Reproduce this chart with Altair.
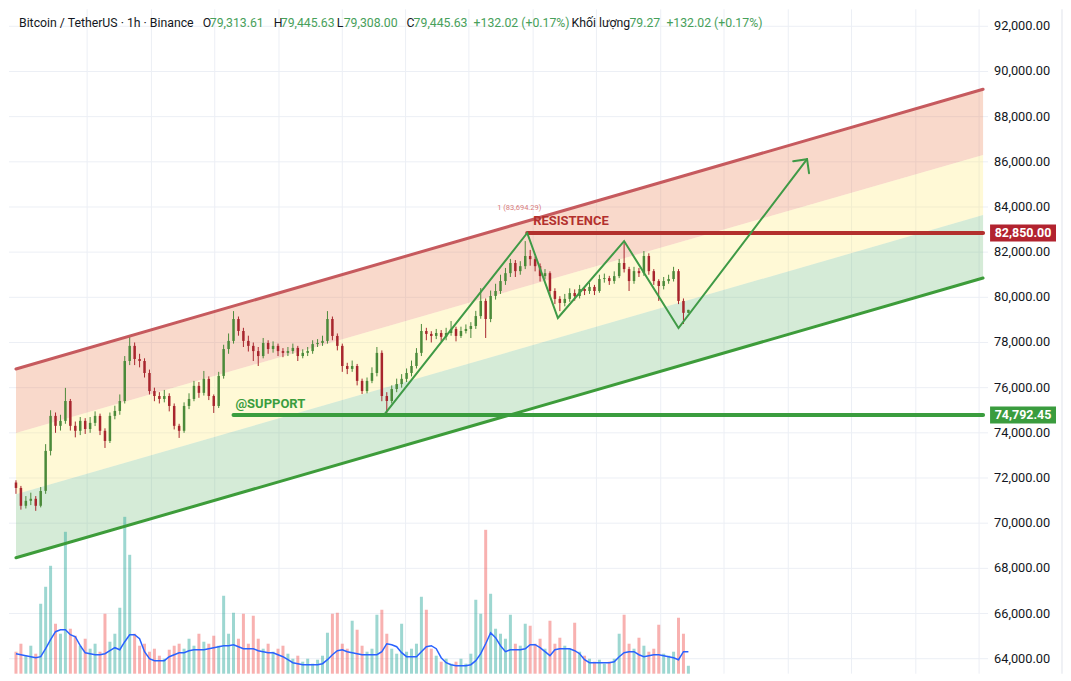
import altair as alt
import pandas as pd

# ---------------- data ----------------
first_open = 71800
closes = [
    71560, 70770, 70990, 71080, 70770, 71430, 73200, 74750, 74310, 74530,
    75410, 74310, 74090, 74530, 74170, 74440, 74750, 74090, 73640, 74750,
    74970, 75410, 77180, 77850, 77270, 77180, 76650, 75850, 75630, 75500,
    75630, 75190, 74310, 74090, 75190, 75500, 76080, 75770, 76390, 75630,
    75190, 76520, 77710, 78070, 79040, 78510, 78070, 77850, 77620, 77400,
    77980, 77710, 77850, 77620, 77540, 77620, 77760, 77400, 77540, 77620,
    77930, 77980, 78070, 79040, 78290, 77850, 76960, 76830, 76960, 76300,
    75850, 76300, 76650, 77540, 75630, 75410, 75940, 76160, 76390, 76650,
    76960, 77540, 78510, 78380, 78290, 78420, 78250, 78420, 78600, 78290,
    78510, 78600, 78730, 79170, 79840, 79040, 80060, 80280, 80720, 81070,
    81520, 81160, 81380, 81830, 81690, 81380, 80940, 81070, 80280, 79930,
    79750, 79930, 80190, 80060, 80370, 80280, 80460, 80280, 80810, 80850,
    80720, 80940, 81520, 81250, 80720, 81160, 81070, 81830, 81160, 80720,
    80500, 80720, 80810, 81160, 79840, 79313.61, 79445.63,
]
highs = [
    71900, 71650, 71200, 71350, 71200, 71600, 73500, 75000, 74900, 74800,
    75990, 75500, 74500, 74700, 74650, 74700, 74950, 74850, 74200, 74900,
    75200, 75700, 77400, 78290, 78000, 77500, 77300, 76800, 76000, 75800,
    75900, 75750, 75300, 74400, 75350, 75750, 76300, 76250, 76740, 76500,
    75700, 76700, 77900, 78400, 79390, 79150, 78650, 78300, 78000, 77800,
    78200, 78100, 78050, 77950, 77750, 77800, 77950, 77850, 77700, 77800,
    78100, 78150, 78300, 79390, 79150, 78400, 77950, 77100, 77200, 77050,
    76400, 76450, 76900, 77800, 77650, 75800, 76100, 76400, 76600, 76850,
    77200, 77750, 78820, 78650, 78500, 78600, 78550, 78650, 78950, 78700,
    78700, 78800, 78900, 79400, 80410, 79950, 80300, 80600, 81000, 81300,
    81700, 81650, 81600, 82490, 82100, 81800, 81500, 81250, 81150, 80400,
    80050, 80150, 80400, 80350, 80550, 80500, 80650, 80550, 81000, 81050,
    80950, 81150, 81700, 82400, 81350, 81350, 81300, 82050, 81950, 81250,
    80800, 80900, 81000, 81350, 81250, 79950, 79445.63,
]
lows = [
    71300, 70600, 70650, 70800, 70546, 70700, 71300, 73000, 74000, 74100,
    74400, 74100, 73800, 73900, 73950, 74000, 74300, 73900, 73330, 73550,
    74600, 74800, 75300, 77000, 77000, 76900, 76450, 75700, 75400, 75300,
    75350, 74950, 74150, 73775, 74000, 75050, 75400, 75550, 75650, 75450,
    74880, 75100, 76400, 77500, 77950, 78300, 77800, 77600, 77180, 76960,
    77300, 77500, 77550, 77400, 77350, 77400, 77500, 77180, 77300, 77400,
    77500, 77800, 77850, 77950, 78100, 77650, 76700, 76600, 76700, 76100,
    75720, 75750, 76200, 76500, 75400, 74792, 75300, 75800, 76000, 76250,
    76500, 76850, 77400, 78100, 78000, 78150, 78050, 78100, 78300, 78050,
    78200, 78400, 78200, 78600, 79050, 78200, 78900, 79900, 80150, 80550,
    80900, 80900, 81000, 81250, 81400, 81150, 80700, 80800, 80050, 79700,
    79390, 79600, 79800, 79850, 79950, 80100, 80150, 80100, 80200, 80650,
    80550, 80600, 80850, 81100, 80280, 80600, 80900, 80950, 81000, 80550,
    79840, 80350, 80600, 80700, 79700, 78820, 79308,
]
volumes = [
    220, 300, 180, 280, 200, 700, 870, 1080, 500, 400,
    1420, 450, 380, 280, 350, 250, 300, 220, 600, 320,
    400, 660, 1570, 1190, 400, 280, 300, 220, 250, 180,
    150, 240, 280, 300, 250, 350, 280, 400, 320, 300,
    380, 280, 780, 400, 610, 350, 600, 300, 580, 350,
    250, 300, 220, 250, 280, 200, 150, 180, 120, 150,
    100, 140, 180, 410, 600, 610, 300, 250, 530, 440,
    280, 220, 250, 590, 640, 400, 250, 200, 500, 220,
    250, 300, 770, 640, 250, 180, 120, 150, 100, 120,
    150, 100, 200, 740, 600, 1440, 800, 450, 400, 350,
    590, 300, 280, 500, 480, 300, 350, 250, 530, 300,
    360, 280, 250, 510, 220, 180, 150, 120, 140, 100,
    120, 150, 400, 590, 300, 250, 360, 280, 220, 250,
    490, 200, 180, 220, 560, 400, 79.27,
]
vol_ma = [
    200, 190, 180, 170, 160, 170, 250, 340, 420, 440,
    440, 390, 370, 280, 210, 200, 190, 190, 200, 230,
    260, 240, 320, 390, 390, 350, 220, 150, 130, 130,
    130, 170, 190, 210, 210, 230, 240, 240, 240, 250,
    260, 270, 280, 280, 290, 270, 250, 250, 250, 230,
    220, 210, 210, 190, 170, 140, 110, 100, 90, 90,
    90, 90, 100, 140, 190, 230, 240, 220, 210, 200,
    190, 190, 190, 190, 220, 300, 290, 270, 210, 170,
    170, 170, 220, 270, 280, 250, 160, 110, 90, 80,
    80, 80, 90, 130, 200, 300, 410, 360, 280, 220,
    240, 240, 240, 250, 290, 290, 260, 220, 180, 240,
    250, 250, 250, 230, 200, 140, 110, 110, 110, 110,
    110, 120, 170, 210, 220, 220, 190, 170, 180, 190,
    190, 180, 170, 160, 140, 220, 220,
]

# channel (bar index, price)
channel_x = [0, 195.6]
channel_top = [76828, 89213]
channel_lvl1 = [73990, 86300]
channel_lvl2 = [71280, 83640]
channel_bottom = [68467, 80853]

resistance = 82850.00
resistance_x = [103.4, 195.6]
support = 74792.45
support_x = [44.0, 195.6]

zigzag_x = [74.6, 103.4, 109.6, 123.0, 134.0, 160.0]
zigzag_p = [74837, 82850, 79084, 82490, 78641, 86117]
arrow_x = [157.2, 160.0, 160.4]
arrow_p = [86028, 86117, 85498]

price_ticks = list(range(64000, 92001, 2000))
time_grid = [14.4, 27.4, 40.2, 53.2, 66.0, 78.8, 91.6, 104.6, 117.4,
             130.4, 143.2, 156.2, 169.0, 182.0, 194.8]

header_texts = ["Bitcoin / TetherUS · 1h · Binance", "O", "79,313.61", "H", "79,445.63",
                "L", "79,308.00", "C", "79,445.63", "+132.02 (+0.17%)",
                "Khối lượng", "79.27", "+132.02 (+0.17%)"]
header_px = [10, 194, 201, 265, 272, 328, 335, 398, 405, 465, 563, 621, 658]
header_kind = ["dark", "dark", "val", "dark", "val", "dark", "val", "dark", "val", "val",
               "dark", "val", "val"]

# ---------------- styling ----------------
FONT = "Roboto"
UP, DOWN = "#4b8a3a", "#a8262e"
VUP, VDOWN = "#26a69a", "#ef5350"
GREEN_TXT = "#47a05a"
DARK = "#131722"
GRID = "#eceff5"
W, H = 980, 665

xs = alt.Scale(domain=[-0.4, 195.6], nice=False, zero=False)
ys = alt.Scale(domain=[63336, 92752], nice=False, zero=False)
vs = alt.Scale(domain=[0, 6650], nice=False, zero=True)

n = len(closes)
opens = [first_open] + closes[:-1]
df = pd.DataFrame({"i": list(range(n)), "open": opens, "high": highs, "low": lows,
                   "close": closes, "vol": volumes, "ma": vol_ma})

up_cond = "datum.close >= datum.open"

# ---- grid + price labels drawn as marks (price scale) ----
pt = pd.DataFrame({"p": price_ticks})
tg = pd.DataFrame({"t": time_grid})
hgrid = alt.Chart(pt).mark_rule(color=GRID, strokeWidth=1).encode(
    y=alt.Y("p:Q", scale=ys, axis=None), x=alt.value(0), x2=alt.value(W))
vgrid = alt.Chart(tg).mark_rule(color=GRID, strokeWidth=1).encode(
    x=alt.X("t:Q", scale=xs, axis=None), y=alt.value(0), y2=alt.value(H))
border = alt.Chart(tg.head(1)).mark_rule(color="#e0e3eb", strokeWidth=1, clip=False).encode(
    x=alt.value(W + 74), y=alt.value(0), y2=alt.value(H))
plabels = alt.Chart(pt).mark_text(align="left", baseline="middle", font=FONT, fontSize=12.8,
                                  color=DARK, clip=False).encode(
    y=alt.Y("p:Q", scale=ys, axis=None), x=alt.value(W + 6),
    text=alt.Text("p:Q", format=",.2f"))

# ---- bands ----
def band_df(lo, hi):
    return pd.DataFrame({"x": channel_x, "y": lo, "y2": hi})

band_specs = [(channel_lvl1, channel_top, "#eb8052"),
              (channel_lvl2, channel_lvl1, "#ffeb78"),
              (channel_bottom, channel_lvl2, "#73bc7a")]
band_layers = []
for lo, hi, col in band_specs:
    band_layers.append(
        alt.Chart(band_df(lo, hi)).mark_area(color=col, opacity=0.3).encode(
            x=alt.X("x:Q", scale=xs, axis=None),
            y=alt.Y("y:Q", scale=ys, axis=None),
            y2="y2:Q"))
back = alt.layer(hgrid, vgrid, border, plabels, *band_layers)

# ---- volume ----
vbase = alt.Chart(df)
volume = alt.layer(
    vbase.mark_bar(size=3, opacity=0.45).encode(
        x=alt.X("i:Q", scale=xs, axis=None),
        y=alt.Y("vol:Q", scale=vs, axis=None),
        color=alt.condition(up_cond, alt.value(VUP), alt.value(VDOWN)),
    ),
    vbase.mark_line(color="#2962ff", strokeWidth=1.5).encode(
        x=alt.X("i:Q", scale=xs, axis=None),
        y=alt.Y("ma:Q", scale=vs, axis=None),
    ),
)

# ---- candles & drawings ----
cbase = alt.Chart(df)
wicks = cbase.mark_rule(strokeWidth=1).encode(
    x=alt.X("i:Q", scale=xs, axis=None),
    y=alt.Y("low:Q", scale=ys, axis=None), y2="high:Q",
    color=alt.condition(up_cond, alt.value(UP), alt.value(DOWN)),
)
bodies = cbase.mark_bar(size=2.5).encode(
    x=alt.X("i:Q", scale=xs, axis=None),
    y=alt.Y("open:Q", scale=ys, axis=None), y2="close:Q",
    color=alt.condition(up_cond, alt.value(UP), alt.value(DOWN)),
)

def seg(xv, yv, color, width):
    d = pd.DataFrame({"x": xv, "y": yv, "o": list(range(len(xv)))})
    return alt.Chart(d).mark_line(color=color, strokeWidth=width, strokeCap="round",
                                  strokeJoin="miter", clip=True).encode(
        x=alt.X("x:Q", scale=xs, axis=None),
        y=alt.Y("y:Q", scale=ys, axis=None), order="o:Q")

top_line = seg(channel_x, channel_top, "#c65a5e", 3)
bottom_line = seg(channel_x, channel_bottom, "#3d9c3a", 3)
res_line = seg(resistance_x, [resistance, resistance], "#b3302d", 4)
sup_line = seg(support_x, [support, support], "#3a9d3e", 4)
zz = seg(zigzag_x, zigzag_p, "#3f9a46", 2)
arrow = seg(arrow_x, arrow_p, "#3f9a46", 2)

def label(xv, yv, txt, color, size, weight="normal", align="left"):
    d = pd.DataFrame({"x": [xv], "y": [yv], "t": [txt]})
    return alt.Chart(d).mark_text(align=align, baseline="middle", font=FONT, fontSize=size,
                                  fontWeight=weight, color=color).encode(
        x=alt.X("x:Q", scale=xs, axis=None), y=alt.Y("y:Q", scale=ys, axis=None), text="t:N")

res_lbl = label(104.6, 83380, "RESISTENCE", "#b3302d", 13, "bold")
sup_lbl = label(44.4, 75280, "@SUPPORT", "#3a9d3e", 13, "bold")
fib_lbl = label(101.8, 83949, "1 (83,694.29)", "#d77a7a", 7.5, "normal", "center")

# price tags on the axis
tag_shape = "M-1,-0.2576L1,-0.2576L1,0.2576L-1,0.2576Z"
def tag(price, txt, color):
    d = pd.DataFrame({"y": [price], "t": [txt]})
    b = alt.Chart(d)
    return alt.layer(
        b.mark_point(shape=tag_shape, filled=True, opacity=1, size=4356, color=color,
                     strokeWidth=0, clip=False).encode(
            x=alt.value(1015), y=alt.Y("y:Q", scale=ys, axis=None)),
        b.mark_text(font=FONT, fontSize=12.5, fontWeight="bold", color="white",
                    align="center", baseline="middle", clip=False).encode(
            x=alt.value(1015), y=alt.Y("y:Q", scale=ys, axis=None), text="t:N"),
    )

res_tag = tag(resistance, "82,850.00", "#b2232f")
sup_tag = tag(support, "74,792.45", "#3a9c3e")

headers = []
for t, px, k in zip(header_texts, header_px, header_kind):
    d = pd.DataFrame({"t": [t]})
    headers.append(alt.Chart(d).mark_text(align="left", baseline="middle", font=FONT,
                                          fontSize=12.3,
                                          color=DARK if k == "dark" else GREEN_TXT).encode(
        x=alt.value(px), y=alt.value(14), text="t:N"))

front = alt.layer(wicks, bodies, top_line, bottom_line, res_line, sup_line, zz, arrow,
                  res_lbl, sup_lbl, fib_lbl, res_tag, sup_tag, *headers)

chart = alt.layer(back, volume, front).resolve_scale(y="independent").properties(
    width=W, height=H, padding=0
).configure_view(stroke=None)

chart.save("out.html", embed_options={"renderer": "svg", "actions": False})
